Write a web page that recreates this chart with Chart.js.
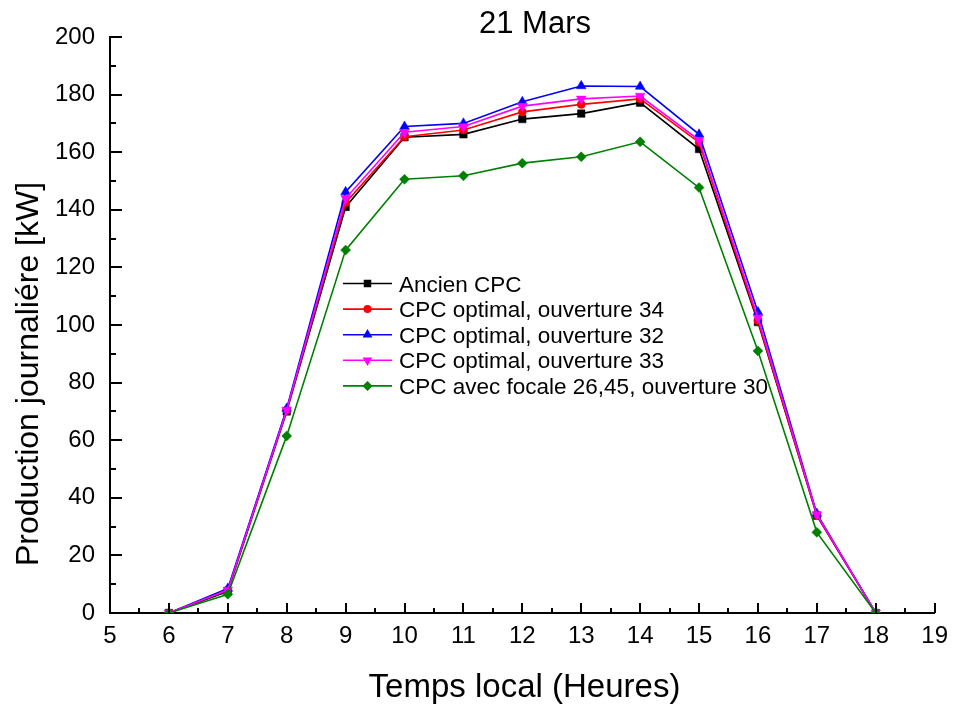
<!DOCTYPE html>
<html><head><meta charset="utf-8">
<script src="https://cdn.jsdelivr.net/npm/chart.js@4/dist/chart.umd.min.js"></script>
<style>html,body{margin:0;padding:0;background:#fff;}#wrap{width:957px;height:704px;}</style>
</head><body><div id="wrap"><canvas id="c" width="957" height="704"></canvas></div>
<script>
const chartTitle = "21 Mars";
const xTitle = "Temps local (Heures)";
const yTitle = "Production journaliére [kW]";
const hours = [6, 7, 8, 9, 10, 11, 12, 13, 14, 15, 16, 17, 18];
const ancienCPC = [0, 7.5, 70, 141, 165.2, 166.2, 171.5, 173.4, 177.2, 161.1, 101, 33.8, 0];
const ouverture34 = [0, 8, 70.5, 142.5, 165.4, 167.7, 174, 176.6, 178.5, 163.4, 101.5, 34, 0];
const ouverture32 = [0, 8.5, 71, 146.2, 168.9, 170, 177.5, 183, 182.8, 166.2, 104.5, 34.5, 0];
const ouverture33 = [0, 8, 70.5, 144, 166.9, 168.9, 176, 178.5, 179.5, 164.2, 102.5, 34.2, 0];
const focale2645 = [0, 6.5, 61.5, 126, 150.6, 151.8, 156.2, 158.4, 163.6, 147.7, 91, 28, 0];
const seriesNames = ["Ancien CPC", "CPC optimal, ouverture 34", "CPC optimal, ouverture 32", "CPC optimal, ouverture 33", "CPC avec focale 26,45, ouverture 30"];
const xTickValues = [5, 19, 1];
const yTickValues = [0, 200, 20];

const FONT = '"Liberation Sans", Arial, sans-serif';
const styles = [
  {color:'#000000', pointStyle:'rect', rot:0, r:5.3},
  {color:'#ff0000', pointStyle:'circle', rot:0, r:4},
  {color:'#0000ff', pointStyle:'triangle', rot:0, r:5.6},
  {color:'#ff00ff', pointStyle:'triangle', rot:180, r:5.6},
  {color:'#008000', pointStyle:'rectRot', rot:0, r:5}
];
const seriesData = [ancienCPC, ouverture34, ouverture32, ouverture33, focale2645];

const datasets = seriesData.map((vals, i) => ({
  label: seriesNames[i],
  data: hours.map((h, k) => ({x: h, y: vals[k]})),
  borderColor: styles[i].color,
  backgroundColor: styles[i].color,
  pointBackgroundColor: styles[i].color,
  pointBorderColor: styles[i].color,
  pointBorderWidth: 0.5,
  pointStyle: styles[i].pointStyle,
  pointRotation: styles[i].rot,
  pointRadius: styles[i].r,
  borderWidth: 1.6,
  tension: 0,
  order: 5 - i
}));

function drawMarker(ctx, st, x, y) {
  ctx.save();
  ctx.fillStyle = st.color;
  ctx.beginPath();
  const r = st.r;
  if (st.pointStyle === 'rect') {
    const s = r * Math.SQRT1_2;
    ctx.rect(x - s, y - s, 2 * s, 2 * s);
  } else if (st.pointStyle === 'circle') {
    ctx.arc(x, y, r, 0, Math.PI * 2);
  } else if (st.pointStyle === 'triangle') {
    const dir = st.rot === 180 ? -1 : 1;
    const a0 = -Math.PI / 2;
    for (let k = 0; k < 3; k++) {
      const a = a0 + k * 2 * Math.PI / 3;
      const px = x + Math.cos(a) * r;
      const py = y + dir * Math.sin(a) * r;
      if (k === 0) ctx.moveTo(px, py); else ctx.lineTo(px, py);
    }
    ctx.closePath();
  } else if (st.pointStyle === 'rectRot') {
    ctx.moveTo(x, y - r); ctx.lineTo(x + r, y); ctx.lineTo(x, y + r); ctx.lineTo(x - r, y); ctx.closePath();
  }
  ctx.fill();
  ctx.restore();
}

const decor = {
  id: 'decor',
  afterDraw(chart) {
    const {ctx, chartArea: a, scales: {x, y}} = chart;
    ctx.save();
    ctx.strokeStyle = '#000';
    ctx.lineWidth = 2;
    for (let v = yTickValues[0]; v <= yTickValues[1]; v += yTickValues[2] / 2) {
      const p = Math.round(y.getPixelForValue(v));
      const major = Math.abs((v / yTickValues[2]) - Math.round(v / yTickValues[2])) < 1e-6;
      const len = major ? 12 : 6;
      ctx.beginPath(); ctx.moveTo(a.left, p); ctx.lineTo(a.left + len, p); ctx.stroke();
    }
    for (let v = xTickValues[0]; v <= xTickValues[1] + 1e-9; v += xTickValues[2] / 2) {
      const p = Math.round(x.getPixelForValue(v));
      const major = Math.abs(v - Math.round(v)) < 1e-6;
      const len = major ? 10 : 5;
      ctx.beginPath(); ctx.moveTo(p, a.bottom); ctx.lineTo(p, a.bottom - len); ctx.stroke();
    }
    ctx.fillStyle = '#000';
    ctx.textAlign = 'center';
    ctx.textBaseline = 'alphabetic';
    ctx.font = '31px ' + FONT;
    ctx.fillText(chartTitle, 535, 33);
    ctx.font = '33px ' + FONT;
    ctx.fillText(xTitle, 524.5, 697);
    ctx.save();
    ctx.translate(38, 374);
    ctx.rotate(-Math.PI / 2);
    ctx.font = '32px ' + FONT;
    ctx.fillText(yTitle, 0, 0);
    ctx.restore();
    ctx.font = '22.5px ' + FONT;
    ctx.textAlign = 'left';
    for (let i = 0; i < seriesNames.length; i++) {
      const ry = 283.5 + i * 25.6;
      ctx.strokeStyle = styles[i].color;
      ctx.lineWidth = 1.6;
      ctx.beginPath(); ctx.moveTo(343, ry); ctx.lineTo(392, ry); ctx.stroke();
      drawMarker(ctx, styles[i], 367.5, ry);
      ctx.fillStyle = '#000';
      ctx.fillText(seriesNames[i], 399, ry + 8);
    }
    ctx.restore();
  }
};

new Chart(document.getElementById('c'), {
  type: 'line',
  data: {datasets},
  options: {
    responsive: false,
    animation: false,
    devicePixelRatio: 1,
    layout: {padding: {top: 37, right: 19, left: 0, bottom: 0}},
    plugins: {legend: {display: false}, title: {display: false}, tooltip: {enabled: false}},
    scales: {
      x: {
        type: 'linear', min: xTickValues[0], max: xTickValues[1],
        grid: {display: false, drawTicks: false},
        border: {display: true, color: '#000', width: 2},
        ticks: {stepSize: xTickValues[2], color: '#000', font: {family: FONT, size: 24}, padding: 9, maxRotation: 0, autoSkip: false},
        afterFit(s) { s.height = 91; }
      },
      y: {
        min: yTickValues[0], max: yTickValues[1],
        grid: {display: false, drawTicks: false},
        border: {display: true, color: '#000', width: 2},
        ticks: {stepSize: yTickValues[2], color: '#000', font: {family: FONT, size: 24}, padding: 15},
        afterFit(s) { s.width = 110; }
      }
    }
  },
  plugins: [decor]
});
</script>
</body></html>
